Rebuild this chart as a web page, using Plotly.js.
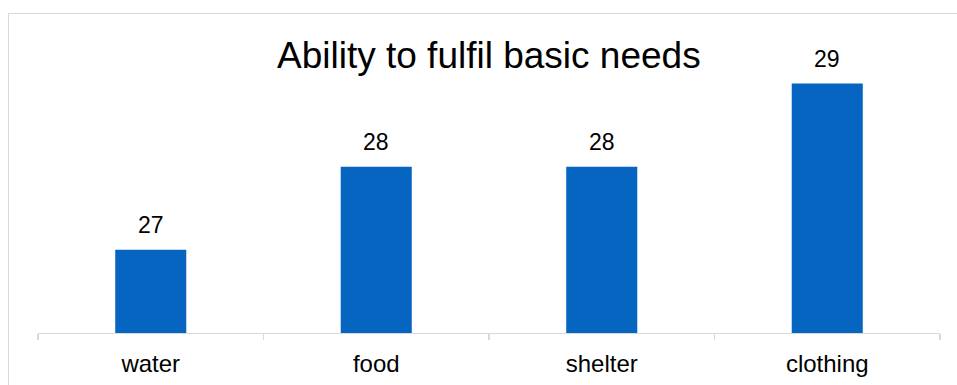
<!DOCTYPE html>
<html>
<head>
<meta charset="utf-8">
<script src="https://cdn.plot.ly/plotly-3.0.1.min.js"></script>
<style>
  html, body { margin: 0; padding: 0; background: #ffffff; }
  #wrap { position: relative; width: 957px; height: 385px; overflow: hidden; }
  #chart { position: absolute; left: 0; top: 0; width: 957px; height: 385px; }
  #frame { position: absolute; left: 8px; top: 13px; width: 1000px; height: 500px;
           border: 1.3px solid #d9d9d9; box-sizing: border-box; pointer-events: none; }
</style>
</head>
<body>
<div id="wrap">
  <div id="chart"></div>
  <div id="frame"></div>
</div>
<script>
const categories = ["water", "food", "shelter", "clothing"];
const values = [27, 28, 28, 29];
const chartTitle = "Ability to fulfil basic needs";

const FONT = "Liberation Sans, Arial, sans-serif";

const trace = {
  type: "bar",
  x: categories,
  y: values,
  marker: { color: "#0565c0" },
  hoverinfo: "skip"
};

const annotations = categories.map((c, i) => ({
  x: c, y: values[i], xref: "x", yref: "y",
  text: String(values[i]),
  showarrow: false,
  xanchor: "center", yanchor: "middle",
  yshift: 25,
  font: { family: FONT, size: 23, color: "#000000" }
}));

annotations.push({
  xref: "paper", yref: "paper", x: 0.5, y: 1,
  text: chartTitle, showarrow: false,
  xanchor: "center", yanchor: "middle",
  yshift: -13,
  font: { family: FONT, size: 37, color: "#000000" }
});

const layout = {
  width: 957, height: 385,
  margin: { l: 38, r: 17, t: 42, b: 52 },
  paper_bgcolor: "#ffffff",
  plot_bgcolor: "#ffffff",
  showlegend: false,
  bargap: 0.685,
  font: { family: FONT, size: 24, color: "#000000" },
  xaxis: {
    type: "category",
    showline: true, linecolor: "#d9d9d9", linewidth: 1.3,
    ticks: "outside", tickson: "boundaries", ticklen: 6, tickcolor: "#d9d9d9", tickwidth: 1.3,
    showgrid: false, zeroline: false,
    tickfont: { family: FONT, size: 24, color: "#000000" },
    ticklabelstandoff: 9
  },
  yaxis: {
    range: [26, 29.5],
    visible: false, showgrid: false, zeroline: false
  },
  annotations: annotations
};

Plotly.newPlot("chart", [trace], layout, { displayModeBar: false, staticPlot: true });
</script>
</body>
</html>
